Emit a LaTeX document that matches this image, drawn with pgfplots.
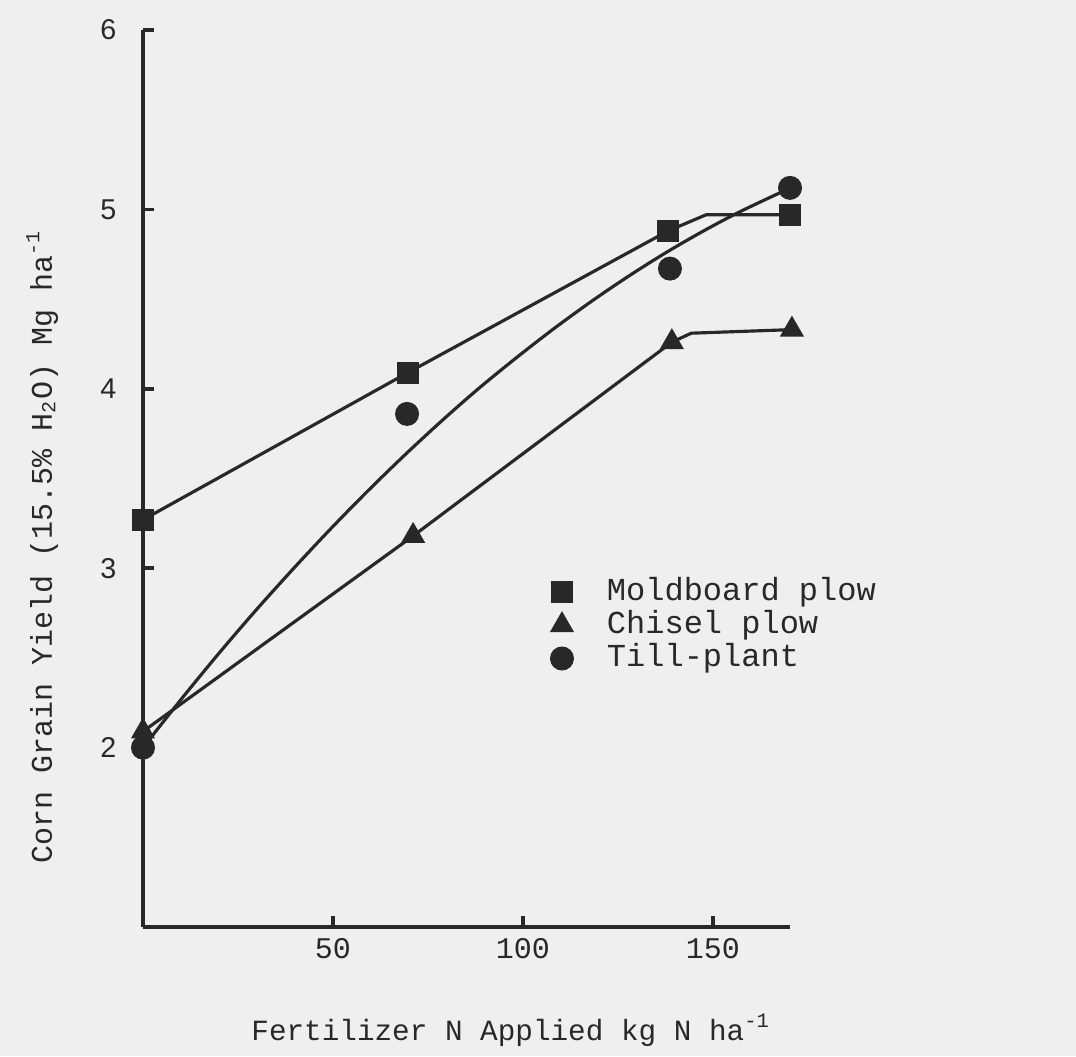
\documentclass[border=0pt]{standalone}
\usepackage{fontspec}
\setmainfont{Liberation Mono}
\newfontfamily\sansf{Liberation Sans}
\usepackage{pgfplots}
\pgfplotsset{compat=1.18}
\definecolor{ink}{RGB}{40,40,40}
\definecolor{paper}{RGB}{239,239,239}
\begin{document}
\begin{tikzpicture}
\fill[paper] (-42.9pt,-38.7pt) rectangle (279.9pt,278.1pt);
\useasboundingbox (-42.9pt,-38.7pt) rectangle (279.9pt,278.1pt);
\begin{axis}[
  at={(0,0)}, anchor=south west,
  scale only axis, width=194.1pt, height=269.1pt,
  xmin=0, xmax=170.3, ymin=1, ymax=6,
  clip=false,
  axis x line*=bottom, axis y line*=left,
  axis line style={ink, line width=1.1pt, -},
  x axis line style={-}, y axis line style={-},
  xtick={50,100,150}, ytick={2,3,4,5,6},
  tick align=inside, major tick length=3.3pt,
  tick style={ink, line width=1.1pt},
  /pgf/number format/assume math mode=true,
  x tick label style={font=\fontsize{9}{10}\selectfont, text=ink},
  y tick label style={font=\sansf\fontsize{8.6}{10}\selectfont, text=ink, xshift=-4.5pt},
  legend style={draw=none, fill=none, inner sep=0pt, at={(0.6285,0.393)}, anchor=north west,
    font=\fontsize{9.6}{10}\selectfont, text=ink, row sep=0pt,
    nodes={inner sep=0.5pt, text height=7pt, text depth=2pt}},
  legend cell align=left,
  legend image code/.code={\path[draw=none,fill=none] (-3.5pt,0pt) rectangle (13pt,0.1pt);
    \draw[mark repeat=2,mark phase=2,#1] plot coordinates {(-1pt,0pt)(0pt,0pt)(1pt,0pt)};},
]
% connecting lines
\addplot[ink, line width=0.95pt, forget plot] coordinates {(0,3.27)(69.7,4.09)(138.2,4.88)(148.2,4.97)(170.3,4.97)};
\addplot[ink, line width=0.95pt, forget plot] coordinates {(0,2.09)(71.1,3.18)(139.2,4.26)(144.3,4.31)(170.8,4.33)};
\addplot[ink, line width=0.95pt, smooth, forget plot] coordinates {
(0,2.000)(9.8,2.263)(19.6,2.516)(29.4,2.758)(39.3,2.991)(49.1,3.213)(58.9,3.425)(68.7,3.627)(78.5,3.819)
(88.3,4.001)(98.2,4.172)(108,4.333)(117.8,4.484)(127.6,4.625)(137.4,4.756)(147.2,4.876)(157.1,4.987)(170.3,5.119)};
% data points
\addplot[only marks, mark=square*, mark size=3.05pt, mark options={fill=ink, draw=ink}] coordinates {(0,3.27)(69.7,4.09)(138.2,4.88)(170.3,4.97)};
\addlegendentry{Moldboard plow}
\addplot[only marks, mark=triangle*, mark size=3.8pt, mark options={fill=ink, draw=ink}] coordinates {(0,2.09)(71.1,3.18)(139.2,4.26)(170.8,4.33)};
\addlegendentry{Chisel plow}
\addplot[only marks, mark=*, mark size=3.4pt, mark options={fill=ink, draw=ink}] coordinates {(0,2.00)(69.5,3.86)(138.7,4.67)(170.3,5.12)};
\addlegendentry{Till-plant}
\end{axis}
\node[text=ink, font=\fontsize{8.8}{10}\selectfont] at (110.4pt,-30.9pt) {Fertilizer N Applied kg N ha\textsuperscript{-1}};
\node[text=ink, font=\fontsize{9}{10}\selectfont, rotate=90, anchor=base] at (-27.3pt,114pt) {Corn Grain Yield (15.5\% H\textsubscript{2}O) Mg ha\textsuperscript{-1}};
\end{tikzpicture}
\end{document}
